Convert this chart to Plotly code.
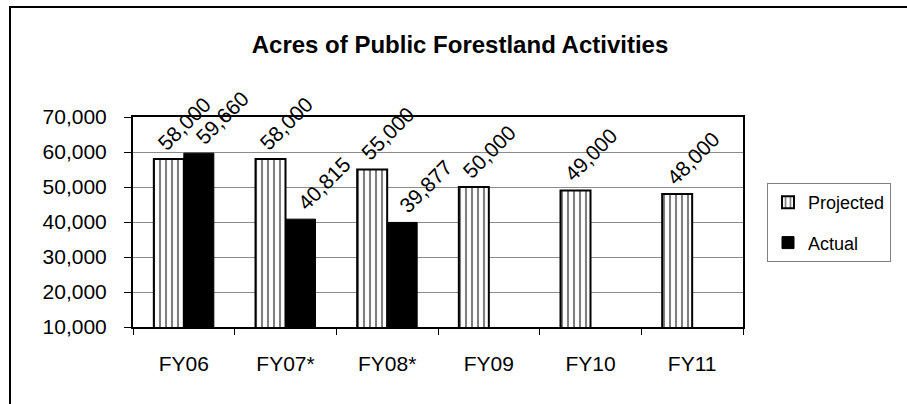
import plotly.graph_objects as go

years = ["FY06", "FY07*", "FY08*", "FY09", "FY10", "FY11"]
projected = [58000, 58000, 55000, 50000, 49000, 48000]
actual_years = ["FY06", "FY07*", "FY08*"]
actual = [59660, 40815, 39877]

FONT = "Liberation Sans, Arial, sans-serif"

# plot area in pixels: x 133..743, y 117..327
W, H = 907, 404
L, R, T, B = 133, 164, 117, 77
pw, ph = W - L - R, H - T - B


def px_x(x):
    return (x - L) / pw


def px_y(y):
    return (H - B - y) / ph


fig = go.Figure()

fig.add_trace(
    go.Bar(
        x=years,
        y=projected,
        name="Projected",
        legendgroup="p",
        marker=dict(
            color="white",
            line=dict(color="black", width=2),
            pattern=dict(shape="|", fgcolor="black", bgcolor="white", size=6, solidity=0.35),
        ),
    )
)

fig.add_trace(
    go.Bar(
        x=actual_years,
        y=actual,
        name="Actual",
        legendgroup="a",
        marker=dict(color="black", line=dict(color="black", width=1)),
    )
)


# value labels, tilted up, starting just over each bar
def add_labels(xs, ys, shift):
    for x, y in zip(xs, ys):
        fig.add_annotation(
            x=x,
            y=y,
            text=f"{y:,}",
            textangle=-45,
            showarrow=False,
            xanchor="left",
            yanchor="bottom",
            xshift=shift,
            yshift=2,
            font=dict(size=21, color="black", family=FONT),
        )


add_labels(years, projected, -33)
add_labels(actual_years, actual, 5)

# outer frame (left and top edges are visible, the rest runs off the picture)
fig.add_shape(
    type="rect",
    xref="paper",
    yref="paper",
    x0=px_x(10),
    x1=px_x(1000),
    y0=px_y(500),
    y1=px_y(7),
    line=dict(color="black", width=2),
    fillcolor="rgba(0,0,0,0)",
    layer="below",
)

fig.update_layout(
    width=W,
    height=H,
    margin=dict(l=L, r=R, t=T, b=B, autoexpand=False),
    paper_bgcolor="white",
    plot_bgcolor="white",
    font=dict(family=FONT, size=20, color="black"),
    title=dict(
        text="<b>Acres of Public Forestland Activities</b>",
        font=dict(size=24, family=FONT, color="black"),
        x=460 / W,
        xanchor="center",
        y=1 - 45 / H,
        yanchor="middle",
    ),
    barmode="group",
    bargap=0.41,
    bargroupgap=0,
    showlegend=True,
    legend=dict(
        x=px_x(767),
        y=px_y(183),
        xanchor="left",
        yanchor="top",
        bordercolor="#808080",
        borderwidth=1,
        font=dict(size=18, family=FONT, color="black"),
        tracegroupgap=14,
        itemwidth=30,
    ),
)

fig.update_xaxes(
    type="category",
    showline=True,
    linecolor="black",
    linewidth=2,
    mirror=True,
    ticks="outside",
    tickson="boundaries",
    ticklen=6,
    tickcolor="black",
    tickwidth=1,
    ticklabelstandoff=17,
    tickfont=dict(size=21),
    showgrid=False,
)

fig.update_yaxes(
    range=[10000, 70000],
    dtick=10000,
    tickformat=",d",
    showline=True,
    linecolor="black",
    linewidth=2,
    mirror=True,
    ticks="outside",
    ticklen=7,
    tickcolor="black",
    tickwidth=1,
    ticklabelstandoff=13,
    tickfont=dict(size=21),
    showgrid=True,
    gridcolor="#8c8c8c",
    gridwidth=1,
    zeroline=False,
)

# drop the default page margin so the figure sits at the window's corner
fig.write_html(
    "out.html",
    config={"displayModeBar": False},
    post_script="document.body.style.margin='0';document.body.style.overflow='hidden';",
)
